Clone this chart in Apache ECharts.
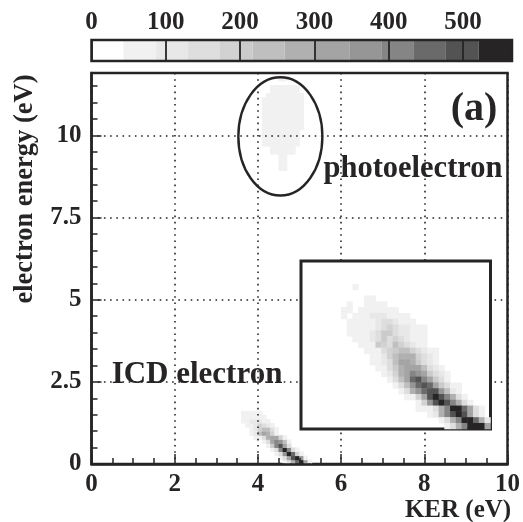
<!DOCTYPE html>
<html><head><meta charset="utf-8">
<style>html,body{margin:0;padding:0;background:#fff}#c{width:523px;height:522px;filter:blur(0.45px)}</style>
<script src="https://cdn.jsdelivr.net/npm/echarts@6/dist/echarts.min.js"></script>
</head><body><div id="c"></div>
<script>
// colour scale: [from, to, grey]
const scaleFrom = [0,43,87,130,172,200,217,260,300,347,390,434,477,521];
const scaleTo   = [43,87,130,172,200,217,260,300,347,390,434,477,521,566];
const scaleCol  = ['#ffffff','#f1f1f1','#e8e8e8','#dedede','#d2d2d2','#cbcbcb','#bfbfbf','#b0b0b0','#a4a4a4','#969696','#858585','#6a6a6a','#535353','#262424'];
const scaleTicks = [0,100,200,300,400,500];
const xTickStep = 2, yTickStep = 2.5, yMinorStep = 0.5;
// main panel, lower band: rows from the bottom, first column of each row
const bandStart = [46,45,44,43,42,41,39,38,38,37,36,36,36];
const bandRows = [
 [60,130,280,450,540,300,60],
 [60,130,300,480,550,350,80],
 [60,150,350,530,450,180,50],
 [60,170,400,540,400,170,60],
 [70,200,420,480,320,130],
 [60,150,320,420,380,220,80],
 [50,80,150,260,340,320,190,80],
 [60,120,240,300,280,180,80],
 [60,100,180,240,240,170,80],
 [60,80,120,180,170,110,60],
 [60,70,90,110,100,70,60],
 [60,70,80,80,70,60],
 [60,60,60,60,60]
];
// main panel, photoelectron blob: first row is row 72
const blobStart = [45,45,45,45,43,43,41,41,41,41,41,41,41,41,41,41,41,41,41,43,43,0,45];
const blobRows = [
 [60,60],[60,60],[60,65],[65,60],
 [60,65,65,70,60,60],[60,65,70,70,65,60],
 [55,60,65,70,75,70,70,65,60],[60,65,70,70,75,75,70,60,60],
 [60,60,70,75,75,70,70,65,60],[60,65,70,75,80,75,70,65,60],
 [60,65,70,75,75,80,75,70,65,60],[60,65,70,75,80,75,70,70,65,60],
 [60,60,70,70,75,75,70,65,60,60],[60,65,65,70,75,70,70,65,60,60],
 [60,60,65,70,70,75,70,65,60,60],[60,65,70,70,70,70,65,65,60,55],
 [55,60,65,65,70,70,65,60,60,60],[60,60,65,65,65,65,60,60,60,55],
 [0,60,60,65,65,65,60,60,60,60],[60,60,65,65,60,60,60],[60,60,60,60,60,60,60],
 [],[55,55]
];
const blobFirstRow = 72;
const ellipseCentre = [4.54, 9.97];
const ellipseRadii = [1.01, 1.8];
// inset: rows from the top, first column of each row
const insetStart = [9,0,11,8,7,7,8,8,8,9,10,11,12,12,13,14,15,16,17,18,20,20,22,24,25];
const insetRows = [
 [60],[],[60,60],
 [60,0,0,60,70,60,60],
 [60,60,0,60,70,80,70,60,60,50],
 [50,0,60,60,80,90,100,100,80,60,60,60],
 [50,60,60,70,80,100,150,140,100,80,60,60],
 [50,60,60,70,80,90,170,190,130,100,90,70,60,50],
 [60,60,60,80,90,130,210,200,140,120,100,80,60,50],
 [50,60,80,100,150,210,160,190,150,110,80,60,50],
 [50,60,80,210,190,170,230,190,130,100,70,60],
 [50,60,80,140,190,210,230,240,190,140,100,70,50],
 [50,70,110,190,220,260,280,260,190,140,90,60],
 [50,70,110,150,220,300,300,270,200,150,100,60],
 [60,70,140,200,260,330,330,300,230,160,110,60],
 [70,120,180,260,320,400,360,300,210,150,90,60],
 [70,130,230,330,440,480,420,330,210,130,80],
 [70,130,240,370,460,510,450,340,210,130,80,50],
 [70,150,260,380,450,490,480,360,220,120,70],
 [50,80,180,320,490,550,480,400,260,140,60],
 [80,190,350,490,530,510,400,260,130,60],
 [50,70,60,140,260,410,540,560,470,310,170,70],
 [60,120,260,420,520,550,490,330,160,60],
 [70,130,260,420,560,540,470,260,120],
 [70,130,260,420,550,560,560,300]
];
const insetFirstRow = 4;
const mainCols = 100, mainRowsN = 96, insetCols = 33, insetRowsN = 29;

const idx = n => Array.from({length:n},(_,i)=>String(i));
const mainData = [];
bandRows.forEach((r,j)=>r.forEach((v,i)=>{ if(v) mainData.push([bandStart[j]+i, j, v]); }));
blobRows.forEach((r,j)=>r.forEach((v,i)=>{ if(v) mainData.push([blobStart[j]+i, blobFirstRow+j, v]); }));
const insetData = [];
insetRows.forEach((r,j)=>r.forEach((v,i)=>{ if(v) insetData.push([insetStart[j]+i, insetRowsN-1-(insetFirstRow+j), v]); }));

const INK = '#262424', FONT = '"Liberation Serif", serif';
const lab = {fontFamily:FONT,fontWeight:'bold',color:INK,fontSize:25};
const txt = (s,x,y,size,extra) => Object.assign({type:'text',x,y,z:30,style:{text:s,fontFamily:FONT,fontWeight:'bold',fontSize:size,fill:INK,textAlign:'center',textVerticalAlign:'middle'}},extra||{});

const chart = echarts.init(document.getElementById('c'),null,{renderer:'canvas'});
chart.setOption({
 animation:false,
 backgroundColor:'#fff',
 grid:[
  {left:91.5,top:40,width:420.5,height:21,show:true,borderColor:INK,borderWidth:2.5,backgroundColor:'transparent',z:8},
  {left:91.5,top:73,width:420,height:391,show:true,borderColor:INK,borderWidth:2.5,backgroundColor:'#fff'},
  {left:301,top:261,width:189.5,height:168,show:true,borderColor:INK,borderWidth:3,backgroundColor:'#fff',z:10}
 ],
 xAxis:[
  {gridIndex:0,type:'value',min:0,max:566,position:'top',z:9,
   axisLine:{show:false},splitLine:{show:true,lineStyle:{color:INK,width:1.8}},
   axisTick:{show:false},
   axisLabel:Object.assign({customValues:scaleTicks,margin:5},lab)},
  {gridIndex:1,type:'value',min:0,max:10,interval:xTickStep,position:'bottom',z:5,
   axisLine:{show:true,lineStyle:{color:INK,width:2.5}},
   axisTick:{show:true,inside:true,length:10,lineStyle:{color:INK,width:1.5}},
   minorTick:{show:true,splitNumber:4,length:6,lineStyle:{color:INK,width:1.5}},
   splitLine:{show:true,lineStyle:{color:INK,width:1.6,type:[1.6,4.6]}},
   axisLabel:Object.assign({margin:8},lab)},
  {gridIndex:1,type:'category',data:idx(mainCols),show:false},
  {gridIndex:2,type:'category',data:idx(insetCols),show:false}
 ],
 yAxis:[
  {gridIndex:0,type:'value',min:0,max:1,show:false},
  {gridIndex:1,type:'value',min:0,max:11.9,interval:yTickStep,position:'left',z:5,
   axisLine:{show:true,lineStyle:{color:INK,width:2.5}},
   axisTick:{show:true,inside:true,length:10,lineStyle:{color:INK,width:1.5}},
   splitLine:{show:true,lineStyle:{color:INK,width:1.6,type:[1.6,4.6]}},
   axisLabel:Object.assign({margin:10,showMaxLabel:false},lab)},
  {gridIndex:1,type:'value',min:0,max:11.9,interval:yMinorStep,position:'left',z:5,
   axisLine:{show:false},axisLabel:{show:false},splitLine:{show:false},
   axisTick:{show:true,inside:true,length:6,lineStyle:{color:INK,width:1.5}}},
  {gridIndex:1,type:'category',data:idx(mainRowsN),show:false},
  {gridIndex:2,type:'category',data:idx(insetRowsN),show:false}
 ],
 visualMap:{show:false,type:'piecewise',seriesIndex:[1,3],dimension:2,
  pieces:scaleFrom.map((f,i)=>({gte:f,lt:scaleTo[i],color:scaleCol[i]}))},
 series:[
  {type:'custom',xAxisIndex:0,yAxisIndex:0,silent:true,z:2,
   data:scaleFrom.map((f,i)=>[f,scaleTo[i],i]),
   renderItem:(p,api)=>{
     const a=api.coord([api.value(0),1]), b=api.coord([api.value(1),0]);
     return {type:'rect',shape:{x:a[0],y:a[1],width:b[0]-a[0],height:b[1]-a[1]},style:{fill:scaleCol[api.value(2)]}};
   }},
  {type:'heatmap',xAxisIndex:2,yAxisIndex:3,data:mainData,silent:true,z:2,progressive:0},
  {type:'custom',xAxisIndex:1,yAxisIndex:1,silent:true,z:7,
   data:[[ellipseCentre[0],ellipseCentre[1],ellipseRadii[0],ellipseRadii[1]]],
   renderItem:(p,api)=>{
     const c=api.coord([api.value(0),api.value(1)]), e=api.coord([api.value(0)+api.value(2),api.value(1)+api.value(3)]);
     return {type:'ellipse',shape:{cx:c[0],cy:c[1],rx:e[0]-c[0],ry:c[1]-e[1]},style:{fill:'none',stroke:INK,lineWidth:2.4}};
   }},
  {type:'heatmap',xAxisIndex:3,yAxisIndex:4,data:insetData,silent:true,z:11,progressive:0}
 ],
 graphic:{elements:[
  txt('electron energy (eV)',25,189,26.5,{rotation:Math.PI/2}),
  txt('KER (eV)',458,511,25),
  txt('(a)',474,110,40),
  txt('photoelectron',413,169,30.5),
  txt('ICD electron',197,375,31)
 ]}
});
</script></body></html>
